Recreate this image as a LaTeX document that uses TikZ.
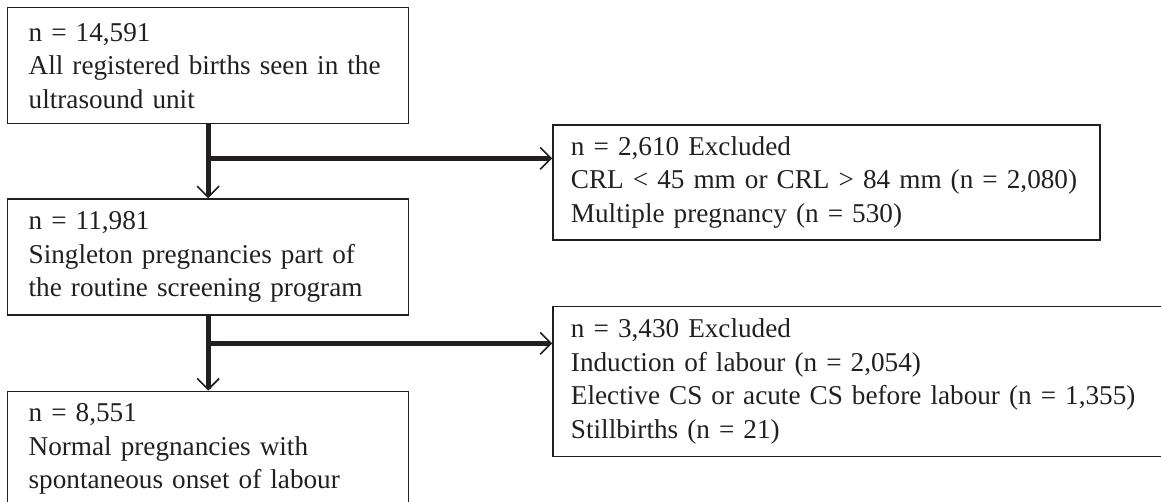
\documentclass[tikz,border=0pt]{standalone}
\usepackage{fontspec}
\setmainfont{Liberation Serif}
\usetikzlibrary{arrows.meta}
\usetikzlibrary{calc}
\usetikzlibrary{positioning}
\definecolor{inkgray}{RGB}{35,31,32}
\tikzset{
  every node/.style={font=\fontsize{27.2}{33.5}\selectfont, text=inkgray},
  stage/.style={draw=inkgray, line width=1.3pt, align=left,
    minimum width=401pt, minimum height=116pt, text width=359pt,
    inner xsep=21pt, inner ysep=0pt},
  excluded/.style={draw=inkgray, line width=1.3pt, align=left,
    inner xsep=18pt, inner ysep=0pt, anchor=north west},
  arrow/.style={-{Straight Barb[length=11pt,width=22pt,line width=1.6pt]},
    line width=5pt, draw=inkgray}
}

\begin{document}
\begin{tikzpicture}[x=1pt, y=-1pt]
  \path[use as bounding box, clip] (0,0) rectangle (1161,501);

  % main flow
  \node[stage, anchor=north west] (all) at (7,7)
    {n = 14,591\\All registered births seen in the\\ultrasound unit};
  \node[stage, below=74pt of all] (single)
    {n = 11,981\\Singleton pregnancies part of\\the routine screening program};
  \node[stage, below=75pt of single] (normal)
    {n = 8,551\\Normal pregnancies with\\spontaneous onset of labour};

  % exclusions
  \node[excluded, minimum width=547pt, minimum height=115pt, text width=511pt]
    (excl1) at ([xshift=143pt]all.south east)
    {n = 2,610 Excluded\\CRL < 45 mm or CRL > 84 mm (n = 2,080)\\Multiple pregnancy (n = 530)};
  \node[excluded, minimum width=629pt, minimum height=150pt, text width=593pt]
    (excl2) at ([xshift=143pt, yshift=10pt]single.south east)
    {n = 3,430 Excluded\\Induction of labour (n = 2,054)\\Elective CS or acute CS before labour (n = 1,355)\\Stillbirths (n = 21)};

  \coordinate (split1) at ($(all.south)!0.46!(single.north)$);
  \coordinate (split2) at ($(single.south)!0.37!(normal.north)$);

  \draw[arrow] (all.south) -- (single.north);
  \draw[arrow] (split1) -- (split1 -| excl1.west);
  \draw[arrow] (single.south) -- (normal.north);
  \draw[arrow] (split2) -- (split2 -| excl2.west);
\end{tikzpicture}
\end{document}
